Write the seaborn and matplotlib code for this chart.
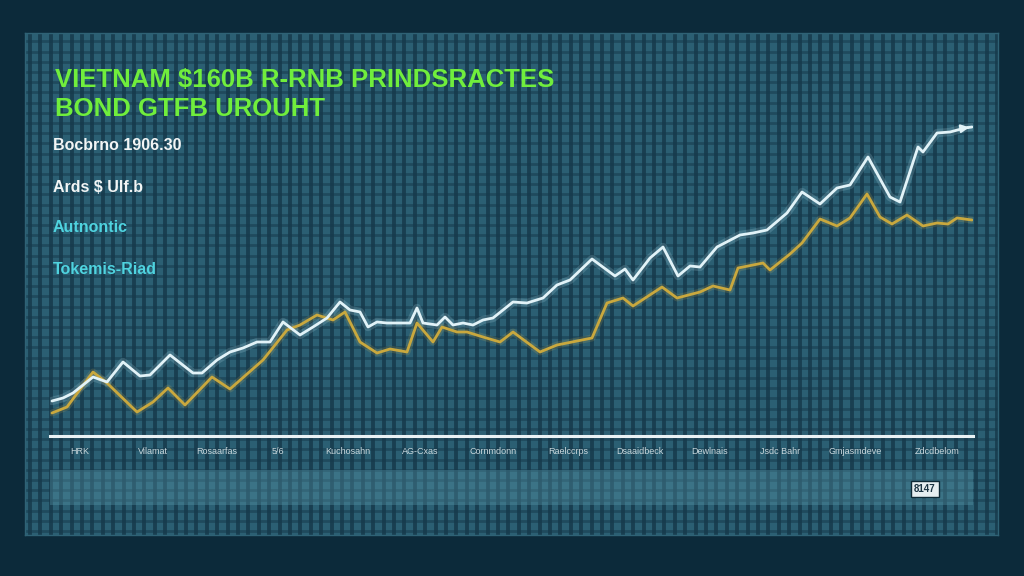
import numpy as np
import pandas as pd
import matplotlib
matplotlib.use("Agg")
import matplotlib.pyplot as plt
from matplotlib.patches import Rectangle
import seaborn as sns

# ---------------- data ----------------
title_lines = ["VIETNAM $160B R-RNB PRINDSRACTES", "BOND GTFB UROUHT"]
legend_texts = ["Bocbrno 1906.30", "Ards $ Ulf.b", "Autnontic", "Tokemis-Riad"]
tick_labels = ["HRK", "Vilamat", "Rosaarfas", "5/6", "Kuchosahn", "AG-Cxas",
               "Cornmdonn", "Raelccrps", "Dsaaidbeck", "Dewlnais", "Jsdc Bahr",
               "Gmjasmdeve", "Zdcdbelom"]
tick_pos = [3.0, 10.3, 16.7, 22.8, 29.8, 37.0, 44.3, 51.8, 59.0, 66.0, 73.0, 80.5, 88.7]
sep_pos = [6.5, 13.2, 20.2, 26.0, 33.7, 40.5, 48.5, 55.8, 62.7, 69.5, 76.7, 85.0]
box_label = "8147"

white_x = [0.2, 1.3, 2.3, 4.3, 5.7, 7.3, 9.0, 10.0, 12.0, 14.3, 15.2, 16.7, 18.0, 19.3,
           20.7, 22.0, 23.3, 25.0, 26.3, 27.7, 29.0, 30.0, 31.0, 31.8, 32.7, 33.7, 35.0,
           36.0, 36.7, 37.3, 38.7, 39.5, 40.3, 41.3, 42.3, 43.3, 44.3, 45.3, 46.3, 47.7,
           49.3, 50.7, 52.0, 54.2, 56.5, 57.5, 58.3, 60.0, 61.3, 62.8, 64.0, 65.0, 66.7,
           69.0, 70.3, 71.7, 73.7, 75.2, 77.0, 78.7, 80.0, 81.8, 84.0, 85.0, 86.8, 87.3,
           88.7, 90.0, 91.5, 92.2]
white_y = [17.5, 19, 21.5, 29.5, 27, 37, 30, 30.5, 40.5, 31.5, 31.5, 38, 42, 44,
           47, 47, 57, 50.5, 54.5, 59, 67, 63, 62, 54.5, 57, 56.5, 56.5,
           56.5, 64, 56.5, 55.5, 59.5, 55.5, 56.5, 55.5, 58, 59, 63, 67, 66.5,
           69, 75.5, 78, 88.5, 80, 83.5, 78, 89, 94.5, 80, 85, 84.5, 94.5,
           100.5, 101.5, 103, 111.5, 122, 116, 124, 125.5, 139.5, 119.5, 117, 144.5, 142,
           151.5, 152, 154, 154.5]

gold_x = [0.2, 1.7, 4.3, 5.7, 8.7, 10.3, 11.8, 13.5, 16.2, 18.0, 21.3, 23.7, 25.0, 26.7,
          28.3, 29.5, 31.0, 32.7, 34.0, 35.7, 36.7, 38.3, 39.2, 40.7, 41.7, 43.3, 45.0,
          46.3, 49.0, 50.7, 54.2, 55.7, 57.3, 58.3, 61.2, 62.7, 65.0, 66.3, 68.0, 68.8,
          71.3, 72.0, 74.0, 75.2, 77.0, 78.7, 80.0, 81.7, 83.0, 84.2, 85.7, 87.3, 88.7,
          89.8, 90.7, 92.2]
gold_y = [11.5, 14.5, 32, 26.5, 12, 17, 24, 15.5, 29.5, 23.5, 38, 53, 55.5, 60.5,
          58, 62, 47, 41.5, 43.5, 42, 56.5, 47, 54.5, 52, 52, 49.5, 47,
          52, 42, 45.5, 49, 66.5, 69, 65, 74.5, 69, 72, 75, 73, 84,
          86.5, 83, 91, 96.5, 108.5, 105, 109, 121, 109.5, 106, 110.5, 105, 106.5,
          106, 109, 108]

df_white = pd.DataFrame({"x": white_x, "y": white_y})
df_gold = pd.DataFrame({"x": gold_x, "y": gold_y})

# ---------------- figure ----------------
sns.set_theme(style="dark")
plt.rcParams["font.family"] = ["Liberation Sans", "DejaVu Sans"]

W, H = 1024, 576
fig = plt.figure(figsize=(W / 100, H / 100), dpi=100)
fig.patch.set_facecolor("#0c2a3a")

def fx(px):
    return px / W

def fy(py):
    return 1 - py / H

# panel background with dense grid
bg = fig.add_axes([fx(25), fy(535), fx(973), 502 / H])
bg.set_facecolor("#2b5f73")
bg.set_xlim(0, 973)
bg.set_ylim(0, 502)
bg.set_xticks(np.arange(5, 973, 10.4))
bg.set_yticks(np.arange(4, 502, 10.2))
bg.grid(True, axis="x", color="#163a4c", linewidth=2.8, alpha=0.85)
bg.grid(True, axis="y", color="#163a4c", linewidth=2.0, alpha=0.55)
bg.tick_params(length=0, labelbottom=False, labelleft=False)
for s in bg.spines.values():
    s.set_color("#2f6275")
    s.set_linewidth(1.0)

# lower band and label box
fig.add_artist(Rectangle((fx(50), fy(505)), fx(923), 35 / H, transform=fig.transFigure,
                         facecolor="#5a9aac", alpha=0.35, edgecolor="none", zorder=1))
fig.text(fx(925), fy(489), box_label, ha="center", va="center", fontsize=7,
         color="#1b3442", fontweight="bold",
         bbox=dict(boxstyle="square,pad=0.35", facecolor="#e6eef0", edgecolor="#0e2a36", linewidth=1))

# main axes
ax = fig.add_axes([fx(50), fy(436), fx(923), 400 / H])
ax.set_facecolor("none")
ax.set_xlim(0, 92.3)
ax.set_ylim(0, 200)

# glow layers
sns.lineplot(data=df_white, x="x", y="y", ax=ax, color="#bfe9f5", linewidth=6, alpha=0.18,
             sort=False, estimator=None)
sns.lineplot(data=df_gold, x="x", y="y", ax=ax, color="#e8c050", linewidth=5, alpha=0.15,
             sort=False, estimator=None)
sns.lineplot(data=df_gold, x="x", y="y", ax=ax, color="#c9a83e", linewidth=2.0,
             sort=False, estimator=None)
sns.lineplot(data=df_white, x="x", y="y", ax=ax, color="#e2f3f8", linewidth=2.0,
             sort=False, estimator=None)
ax.annotate("", xy=(white_x[-1], white_y[-1]), xytext=(white_x[-2], white_y[-2]),
            arrowprops=dict(arrowstyle="-|>", color="#e2f3f8", lw=1.5, mutation_scale=12))

for side in ["top", "right", "left"]:
    ax.spines[side].set_visible(False)
ax.spines["bottom"].set_color("#e8f2f5")
ax.spines["bottom"].set_linewidth(2.2)
ax.set_yticks([])
ax.set_xticks(tick_pos)
ax.set_xticklabels(tick_labels, fontsize=6.5, color="#c9d8dd")
ax.set_xticks(sep_pos, minor=True)
ax.tick_params(axis="x", which="major", length=0, pad=8)
ax.tick_params(axis="x", which="minor", length=22, width=1, color="#5f8f9e", direction="out")
ax.set_xlabel("")
ax.set_ylabel("")
ax.grid(False)

# title
for i, line in enumerate(title_lines):
    fig.text(fx(55), fy(80 + i * 29), line, ha="left", va="center", fontsize=18.5,
             fontweight="bold", color="#70ee3c")

# legend-like texts
leg_colors = ["#f2f5f5", "#f2f5f5", "#4fd3df", "#4fd3df"]
for i, (t, c) in enumerate(zip(legend_texts, leg_colors)):
    fig.text(fx(53), fy(146 + i * 41), t, ha="left", va="center", fontsize=11.5,
             fontweight="bold", color=c)

fig.savefig("out.png", dpi=100, facecolor=fig.get_facecolor())
